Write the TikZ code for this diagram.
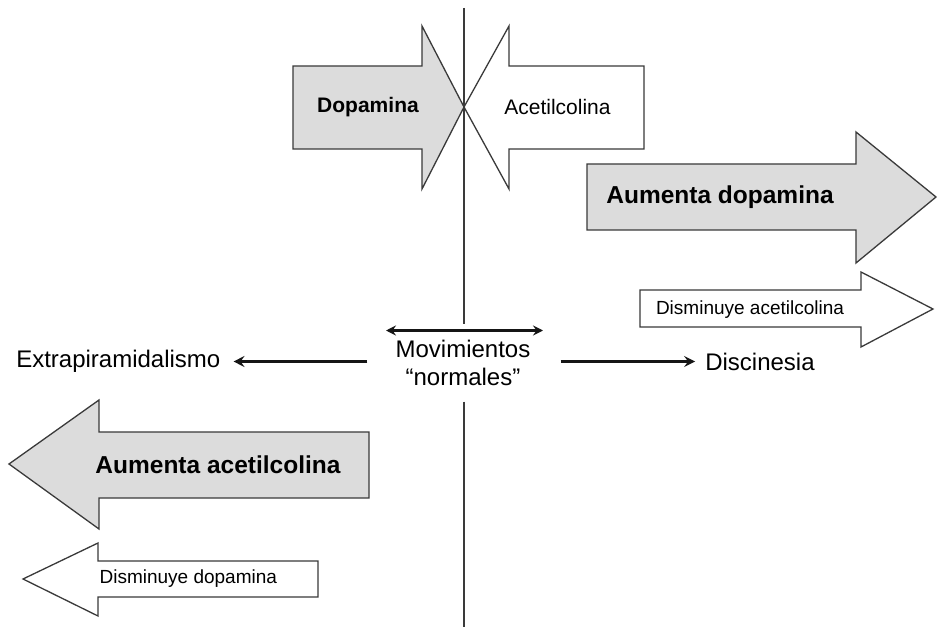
\documentclass[tikz,border=0pt]{standalone}
\usepackage{fontspec}
\setmainfont{Liberation Sans}
\usetikzlibrary{arrows.meta}
\definecolor{shade}{HTML}{DCDCDC}
\definecolor{edge}{HTML}{3A3A3A}
\definecolor{ink}{HTML}{151515}
\begin{document}
\begin{tikzpicture}[x=1pt,y=-1pt,
  blockfull/.style={draw=edge,line width=1.3pt,fill=shade,line join=miter},
  blockopen/.style={draw=edge,line width=1.3pt,fill=white,line join=miter},
  axisline/.style={draw=edge,line width=1.4pt},
  conn/.style={draw=ink,line width=2.8pt,-{Stealth[length=11pt,width=11pt,inset=4pt]}},
  connboth/.style={draw=ink,line width=2.6pt,{Stealth[length=10pt,width=10pt,inset=3.5pt]}-{Stealth[length=10pt,width=10pt,inset=3.5pt]}},
  bigbold/.style={font=\fontsize{24.5}{28}\selectfont\bfseries,inner sep=0pt},
  midbold/.style={font=\fontsize{21}{25}\selectfont\bfseries,inner sep=0pt},
  midtext/.style={font=\fontsize{21}{25}\selectfont,inner sep=0pt},
  smalltext/.style={font=\fontsize{19}{22}\selectfont,inner sep=0pt},
  labeltext/.style={font=\fontsize{24}{28}\selectfont,inner sep=0pt}]
\useasboundingbox (0,0) rectangle (937,631);
\fill[white] (0,0) rectangle (937,631);

% block arrows meeting at the axis
\draw[blockfull] (293,66) -- (422,66) -- (422,26) -- (464,107) -- (422,189)
  -- (422,149) -- (293,149) -- cycle;
\draw[blockopen] (644,66) -- (509,66) -- (509,26) -- (464,107) -- (509,189)
  -- (509,149) -- (644,149) -- cycle;

% rightward block arrows
\draw[blockfull] (587,164) -- (856,164) -- (856,132) -- (936,197) -- (856,263)
  -- (856,230) -- (587,230) -- cycle;
\draw[blockopen] (640,290) -- (861,290) -- (861,272) -- (933,309) -- (861,347)
  -- (861,327) -- (640,327) -- cycle;

% leftward block arrows
\draw[blockfull] (369,432) -- (99,432) -- (99,400) -- (9,464) -- (99,529)
  -- (99,498) -- (369,498) -- cycle;
\draw[blockopen] (318,561) -- (98,561) -- (98,543) -- (23,579) -- (98,616)
  -- (98,597) -- (318,597) -- cycle;

% labels inside the block arrows
\node[midbold]  (dopa)   at (368,107) {Dopamina};
\node[midtext]  (acet)   at (557.5,107) {Acetilcolina};
\node[bigbold]  (updopa) at (720,197) {Aumenta dopamina};
\node[smalltext](dnacet) at (750,310) {Disminuye acetilcolina};
\node[bigbold]  (upacet) at (218,465) {Aumenta acetilcolina};
\node[smalltext](dndopa) at (188.3,579) {Disminuye dopamina};

% centre label and the vertical axis interrupted by it
\node[labeltext,align=center,minimum height=77pt] (mov) at (463,363)
  {Movimientos\\“normales”};
\coordinate (axtop) at (464,8);
\coordinate (axbot) at (464,627);
\draw[axisline] (axtop) -- (mov.north -| axtop);
\draw[axisline] (mov.south -| axbot) -- (axbot);

% side outcomes
\node[labeltext] (extra) at (118.3,361.5) {Extrapiramidalismo};
\node[labeltext] (disc)  at (760,361.5) {Discinesia};

\coordinate (dl) at (386,330.5);
\coordinate (dr) at (543,330.5);
\draw[connboth] (dl) -- (dr);
\draw[conn] ([xshift=-28pt]mov.west |- extra.east) -- ([xshift=13pt]extra.east);
\draw[conn] ([xshift=30pt]mov.east |- disc.west) -- ([xshift=-10pt]disc.west);
\end{tikzpicture}
\end{document}
